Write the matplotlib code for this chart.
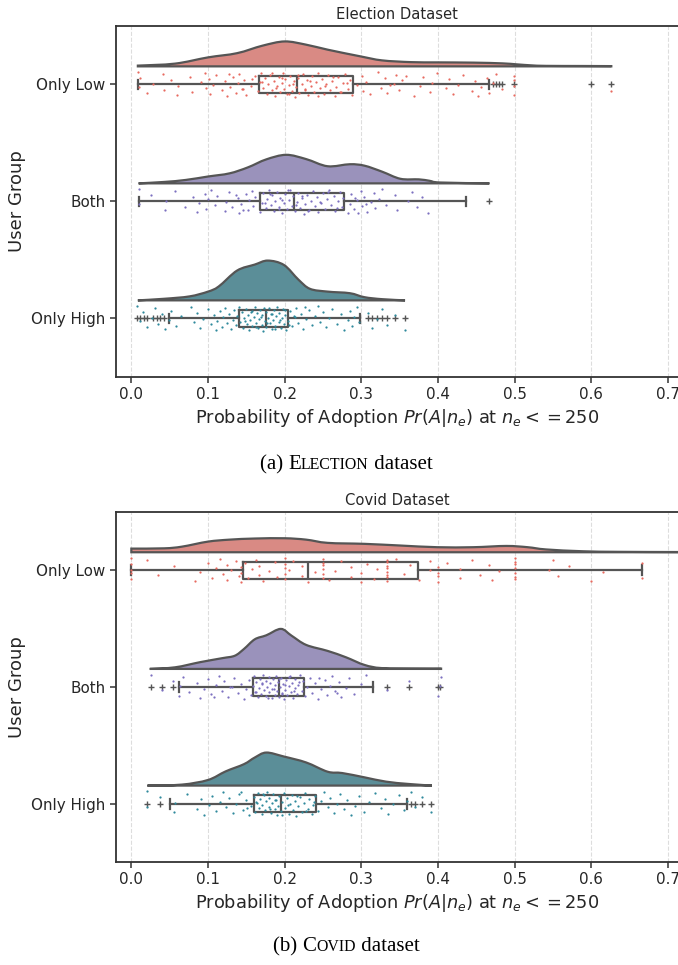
import numpy as np
import matplotlib
matplotlib.use("Agg")
from matplotlib import pyplot as plt
from matplotlib.path import Path
from matplotlib.patches import PathPatch

groups = ["Only Low", "Both", "Only High"]
titles = ["Election Dataset", "Covid Dataset"]
captions = [("(a) ", "Election", " dataset"), ("(b) ", "Covid", " dataset")]
xticks = [0.0, 0.1, 0.2, 0.3, 0.4, 0.5, 0.6, 0.7]

# box statistics: whislo, q1, med, q3, whishi
elec_box = [
    [0.0085, 0.167, 0.216, 0.289, 0.466],
    [0.0095, 0.168, 0.212, 0.277, 0.436],
    [0.049, 0.140, 0.175, 0.204, 0.298],
]
elec_fliers = [
    [0.472, 0.476, 0.479, 0.483, 0.499, 0.600, 0.625],
    [0.466],
    [0.007, 0.011, 0.016, 0.021, 0.028, 0.033, 0.038, 0.043,
     0.309, 0.314, 0.320, 0.327, 0.333, 0.344, 0.357],
]
covid_box = [
    [0.0, 0.145, 0.230, 0.374, 0.666],
    [0.062, 0.159, 0.193, 0.225, 0.315],
    [0.050, 0.160, 0.195, 0.241, 0.360],
]
covid_fliers = [
    [],
    [0.025, 0.040, 0.054, 0.333, 0.362, 0.400, 0.403],
    [0.021, 0.037, 0.365, 0.370, 0.379, 0.391],
]

# half violin outlines: x positions and density (relative to peak)
elec_vx = [
    [0.0085, 0.057, 0.100, 0.138, 0.171, 0.200, 0.228, 0.256, 0.299, 0.327,
     0.365, 0.399, 0.446, 0.484, 0.503, 0.522, 0.541, 0.589, 0.626],
    [0.0095, 0.043, 0.071, 0.100, 0.128, 0.152, 0.176, 0.202, 0.228, 0.256,
     0.285, 0.304, 0.327, 0.351, 0.375, 0.389, 0.403, 0.467],
    [0.0085, 0.043, 0.076, 0.100, 0.114, 0.138, 0.161, 0.178, 0.199, 0.218,
     0.233, 0.256, 0.285, 0.304, 0.327, 0.357],
]
elec_vd = [
    [0.03, 0.11, 0.36, 0.53, 0.83, 1.0, 0.87, 0.67, 0.40, 0.24,
     0.17, 0.16, 0.15, 0.12, 0.08, 0.04, 0.02, 0.015, 0.01],
    [0.0, 0.05, 0.12, 0.24, 0.35, 0.56, 0.84, 1.0, 0.85, 0.60,
     0.67, 0.62, 0.41, 0.16, 0.14, 0.09, 0.03, 0.0],
    [0.0, 0.04, 0.10, 0.22, 0.35, 0.75, 0.90, 1.0, 0.89, 0.52,
     0.29, 0.22, 0.18, 0.08, 0.03, 0.0],
]
elec_peak = [0.213, 0.244, 0.34]

covid_vx = [
    [0.0, 0.043, 0.066, 0.100, 0.128, 0.161, 0.200, 0.228, 0.256, 0.304,
     0.351, 0.399, 0.446, 0.489, 0.517, 0.541, 0.589, 0.636, 0.716, 0.760],
    [0.024, 0.057, 0.090, 0.119, 0.135, 0.147, 0.161, 0.176, 0.195, 0.209,
     0.228, 0.256, 0.280, 0.304, 0.327, 0.375, 0.404],
    [0.021, 0.066, 0.100, 0.123, 0.147, 0.161, 0.176, 0.199, 0.228, 0.256,
     0.275, 0.304, 0.332, 0.361, 0.392],
]
covid_vd = [
    [0.26, 0.28, 0.40, 0.76, 0.90, 0.98, 1.0, 0.90, 0.67, 0.60,
     0.48, 0.36, 0.36, 0.45, 0.36, 0.20, 0.07, 0.03, 0.015, 0.01],
    [0.0, 0.04, 0.17, 0.27, 0.33, 0.50, 0.74, 0.84, 1.0, 0.83,
     0.60, 0.45, 0.29, 0.10, 0.02, 0.008, 0.008],
    [0.0, 0.03, 0.17, 0.43, 0.65, 0.85, 1.0, 0.88, 0.70, 0.42,
     0.38, 0.25, 0.12, 0.05, 0.0],
]
covid_peak = [0.12, 0.343, 0.283]

# raw observations (strip points)
elec_pts = [
    [0.009, 0.010, 0.011, 0.021, 0.028, 0.041, 0.043, 0.052, 0.060, 0.061, 0.077,
     0.079, 0.091, 0.096, 0.098, 0.101, 0.103, 0.106, 0.110, 0.118, 0.122, 0.125,
     0.129, 0.133, 0.136, 0.139, 0.141, 0.144, 0.147, 0.150, 0.156, 0.161, 0.165,
     0.168, 0.169, 0.172, 0.174, 0.177, 0.178, 0.181, 0.184, 0.186, 0.187, 0.190,
     0.193, 0.194, 0.196, 0.198, 0.199, 0.201, 0.203, 0.205, 0.207, 0.209, 0.212,
     0.213, 0.215, 0.218, 0.219, 0.222, 0.224, 0.227, 0.229, 0.231, 0.234, 0.235,
     0.238, 0.241, 0.243, 0.246, 0.249, 0.251, 0.254, 0.257, 0.259, 0.262, 0.265,
     0.267, 0.270, 0.274, 0.276, 0.279, 0.283, 0.285, 0.288, 0.294, 0.301, 0.302,
     0.306, 0.322, 0.326, 0.331, 0.334, 0.342, 0.345, 0.349, 0.353, 0.369, 0.376,
     0.381, 0.389, 0.392, 0.399, 0.411, 0.414, 0.419, 0.426, 0.433, 0.444, 0.448,
     0.452, 0.456, 0.464, 0.466, 0.472, 0.476, 0.483, 0.499, 0.499, 0.499, 0.499,
     0.625, 0.171, 0.183, 0.189, 0.197, 0.206, 0.211, 0.217, 0.226, 0.233, 0.244,
     0.252, 0.263, 0.272, 0.281, 0.127, 0.145, 0.158, 0.311, 0.338, 0.358],
    [0.010, 0.010, 0.026, 0.044, 0.045, 0.057, 0.070, 0.081, 0.085, 0.088, 0.096,
     0.097, 0.100, 0.104, 0.109, 0.112, 0.122, 0.123, 0.128, 0.131, 0.139, 0.140,
     0.143, 0.149, 0.152, 0.154, 0.157, 0.159, 0.161, 0.168, 0.170, 0.172, 0.175,
     0.177, 0.179, 0.182, 0.184, 0.186, 0.188, 0.190, 0.193, 0.194, 0.197, 0.199,
     0.200, 0.203, 0.205, 0.207, 0.209, 0.211, 0.213, 0.216, 0.218, 0.220, 0.223,
     0.225, 0.227, 0.229, 0.232, 0.234, 0.237, 0.239, 0.242, 0.244, 0.247, 0.250,
     0.253, 0.255, 0.258, 0.261, 0.264, 0.266, 0.269, 0.272, 0.275, 0.276, 0.283,
     0.285, 0.287, 0.290, 0.294, 0.299, 0.301, 0.304, 0.308, 0.313, 0.316, 0.318,
     0.323, 0.327, 0.332, 0.344, 0.346, 0.361, 0.366, 0.373, 0.379, 0.387, 0.174,
     0.181, 0.192, 0.196, 0.204, 0.215, 0.222, 0.231, 0.246, 0.257, 0.268, 0.292,
     0.296, 0.306, 0.137, 0.145],
    [0.008, 0.011, 0.015, 0.020, 0.027, 0.031, 0.035, 0.040, 0.044, 0.049, 0.052,
     0.058, 0.065, 0.078, 0.082, 0.085, 0.090, 0.094, 0.100, 0.104, 0.108, 0.110,
     0.112, 0.115, 0.118, 0.120, 0.122, 0.125, 0.127, 0.130, 0.132, 0.134, 0.136,
     0.138, 0.141, 0.142, 0.144, 0.146, 0.147, 0.149, 0.151, 0.152, 0.154, 0.155,
     0.157, 0.158, 0.160, 0.161, 0.163, 0.164, 0.165, 0.167, 0.168, 0.170, 0.171,
     0.172, 0.174, 0.175, 0.176, 0.178, 0.179, 0.181, 0.182, 0.183, 0.185, 0.186,
     0.188, 0.189, 0.190, 0.192, 0.193, 0.195, 0.196, 0.198, 0.199, 0.201, 0.202,
     0.204, 0.207, 0.210, 0.213, 0.215, 0.218, 0.221, 0.224, 0.228, 0.232, 0.236,
     0.240, 0.243, 0.246, 0.250, 0.254, 0.258, 0.262, 0.268, 0.273, 0.277, 0.282,
     0.285, 0.288, 0.291, 0.294, 0.297, 0.309, 0.314, 0.320, 0.327, 0.333, 0.344,
     0.357, 0.148, 0.156, 0.162, 0.169, 0.173, 0.177, 0.184, 0.187, 0.194, 0.200,
     0.206, 0.212, 0.226],
]
covid_pts = [
    [0.0, 0.0, 0.0, 0.0, 0.0, 0.020, 0.035, 0.055, 0.083, 0.090, 0.100, 0.105,
     0.111, 0.115, 0.120, 0.125, 0.125, 0.130, 0.136, 0.140, 0.143, 0.143, 0.143,
     0.148, 0.152, 0.158, 0.163, 0.167, 0.167, 0.172, 0.180, 0.187, 0.190, 0.200,
     0.200, 0.200, 0.200, 0.200, 0.205, 0.211, 0.222, 0.222, 0.230, 0.240, 0.250,
     0.250, 0.250, 0.250, 0.250, 0.250, 0.258, 0.265, 0.273, 0.286, 0.286, 0.300,
     0.300, 0.308, 0.316, 0.320, 0.333, 0.333, 0.333, 0.333, 0.333, 0.333, 0.333,
     0.333, 0.345, 0.355, 0.364, 0.375, 0.389, 0.389, 0.400, 0.400, 0.400, 0.400,
     0.412, 0.429, 0.429, 0.444, 0.455, 0.467, 0.470, 0.480, 0.500, 0.500, 0.500,
     0.500, 0.500, 0.500, 0.500, 0.545, 0.550, 0.556, 0.571, 0.600, 0.615, 0.666,
     0.666],
    [0.025, 0.040, 0.054, 0.062, 0.063, 0.068, 0.075, 0.085, 0.090, 0.095, 0.100,
     0.104, 0.110, 0.114, 0.118, 0.121, 0.126, 0.129, 0.134, 0.139, 0.143, 0.147,
     0.150, 0.153, 0.156, 0.159, 0.160, 0.162, 0.163, 0.165, 0.166, 0.168, 0.169,
     0.171, 0.172, 0.173, 0.175, 0.176, 0.177, 0.179, 0.180, 0.181, 0.183, 0.184,
     0.185, 0.187, 0.188, 0.189, 0.190, 0.191, 0.193, 0.194, 0.195, 0.196, 0.198,
     0.199, 0.200, 0.202, 0.203, 0.205, 0.206, 0.208, 0.209, 0.211, 0.213, 0.214,
     0.216, 0.218, 0.220, 0.222, 0.224, 0.226, 0.229, 0.233, 0.236, 0.240, 0.243,
     0.248, 0.252, 0.255, 0.259, 0.262, 0.266, 0.271, 0.274, 0.280, 0.284, 0.291,
     0.299, 0.306, 0.333, 0.362, 0.400, 0.402, 0.404, 0.161, 0.170, 0.178, 0.186,
     0.192, 0.197, 0.201, 0.207, 0.212, 0.219, 0.108, 0.131, 0.245, 0.268],
    [0.020, 0.021, 0.037, 0.055, 0.057, 0.072, 0.085, 0.091, 0.095, 0.101, 0.105,
     0.110, 0.116, 0.120, 0.124, 0.128, 0.132, 0.137, 0.140, 0.145, 0.149, 0.153,
     0.156, 0.160, 0.161, 0.163, 0.165, 0.166, 0.168, 0.170, 0.171, 0.173, 0.174,
     0.176, 0.177, 0.179, 0.180, 0.182, 0.184, 0.185, 0.187, 0.188, 0.190, 0.191,
     0.193, 0.195, 0.197, 0.199, 0.201, 0.203, 0.205, 0.207, 0.209, 0.211, 0.213,
     0.215, 0.218, 0.220, 0.222, 0.225, 0.227, 0.230, 0.232, 0.235, 0.237, 0.240,
     0.244, 0.248, 0.251, 0.256, 0.259, 0.264, 0.268, 0.272, 0.277, 0.281, 0.287,
     0.292, 0.297, 0.303, 0.310, 0.318, 0.325, 0.331, 0.335, 0.341, 0.349, 0.355,
     0.360, 0.365, 0.370, 0.379, 0.391, 0.164, 0.172, 0.181, 0.189, 0.196, 0.204,
     0.216, 0.228, 0.238, 0.143, 0.151],
]

violin_colors = ["#d98a84", "#9a92bb", "#5b8e98"]
point_colors = ["#e86a60", "#7c70c0", "#2f8a9c"]
line_col = "#555555"
text_col = "#262626"

plt.rcParams['font.family'] = ['DejaVu Sans']
fig = plt.figure(figsize=(6.78, 9.65), dpi=100)
ax_a = fig.add_axes([116 / 678, 1 - 377 / 965, 1 - 116 / 678, (377 - 26) / 965])
ax_b = fig.add_axes([116 / 678, 1 - 862 / 965, 1 - 116 / 678, (862 - 512) / 965])


def smooth_outline(xs, ys, base):
    # curved (Catmull-Rom style bezier) top edge, straight baseline
    pts = np.column_stack([xs, ys])
    verts = [(xs[0], base), tuple(pts[0])]
    codes = [Path.MOVETO, Path.LINETO]
    n = len(pts)
    for j in range(n - 1):
        p0 = pts[max(j - 1, 0)]
        p1 = pts[j]
        p2 = pts[j + 1]
        p3 = pts[min(j + 2, n - 1)]
        c1 = p1 + (p2 - p0) / 6.0
        c2 = p2 - (p3 - p1) / 6.0
        verts += [tuple(c1), tuple(c2), tuple(p2)]
        codes += [Path.CURVE4] * 3
    verts += [(xs[-1], base), (xs[0], base)]
    codes += [Path.LINETO, Path.CLOSEPOLY]
    return Path(verts, codes)


def draw_panel(ax, title, box, fliers, vx, vd, peak, pts):
    for i in range(len(groups)):
        # half violin above the box
        xs = np.array(vx[i])
        base = i - 0.155
        top = base - np.array(vd[i]) * peak[i]
        patch = PathPatch(smooth_outline(xs, top, base), facecolor=violin_colors[i],
                          edgecolor=line_col, linewidth=1.6, zorder=2)
        ax.add_patch(patch)
        # jittered strip
        p = np.array(pts[i])
        k = np.arange(len(p))
        jit = ((k * 0.6180339887) % 1.0 - 0.5) * 0.21
        ax.scatter(p, i + jit, s=2.6, color=point_colors[i], linewidths=0, zorder=3)
        # box
        lo, q1, med, q3, hi = box[i]
        stats = [dict(whislo=lo, q1=q1, med=med, q3=q3, whishi=hi, fliers=fliers[i])]
        ax.bxp(stats, positions=[i], widths=0.15, vert=False, patch_artist=False,
               manage_ticks=False, capwidths=[0.085],
               boxprops=dict(color=line_col, linewidth=1.6),
               medianprops=dict(color=line_col, linewidth=1.6),
               whiskerprops=dict(color=line_col, linewidth=1.6),
               capprops=dict(color=line_col, linewidth=1.6),
               flierprops=dict(marker='+', markersize=5, markeredgecolor=line_col,
                               markeredgewidth=1.0))
    ax.set_xlim(-0.02, 0.713)
    ax.set_ylim(2.5, -0.5)
    ax.set_yticks(range(len(groups)))
    ax.set_yticklabels(groups, fontsize=10.9, color=text_col)
    ax.set_xticks(xticks)
    ax.set_xticklabels(["%.1f" % t for t in xticks], fontsize=10.9, color=text_col)
    ax.xaxis.grid(True, linestyle='--', color='#dddddd', linewidth=0.8)
    ax.set_axisbelow(True)
    ax.tick_params(axis='both', length=4, width=1.1, color='#333333')
    for s in ['left', 'top', 'bottom']:
        ax.spines[s].set_color('#333333')
        ax.spines[s].set_linewidth(1.3)
    ax.spines['right'].set_visible(False)
    ax.set_title(title, fontsize=10.6, pad=5, color=text_col)
    ax.set_ylabel("User Group", fontsize=13, color=text_col)
    ax.set_xlabel(r"Probability of Adoption $Pr(A|n_e)$ at $n_e <= 250$", fontsize=12.8,
                  labelpad=3, color=text_col)


draw_panel(ax_a, titles[0], elec_box, elec_fliers, elec_vx, elec_vd, elec_peak, elec_pts)
draw_panel(ax_b, titles[1], covid_box, covid_fliers, covid_vx, covid_vd, covid_peak, covid_pts)


def small_caps_caption(y, parts, xc, size=15):
    # parts: (prefix, word, suffix); the word is set in small caps
    pre, word, suf = parts
    pieces = [(pre, size), (word[0], size)]
    pieces += [(word[1:].upper(), size * 0.76), (suf, size)]
    r = fig.canvas.get_renderer()
    texts = []
    widths = []
    for s, fs in pieces:
        t = fig.text(0, y, s, fontsize=fs, family='Liberation Serif', va='baseline')
        texts.append(t)
        widths.append(t.get_window_extent(renderer=r).width)
    x = xc * fig.bbox.width - sum(widths) / 2
    for t, w in zip(texts, widths):
        t.set_x(x / fig.bbox.width)
        x += w


small_caps_caption(1 - 469 / 965, captions[0], 346 / 678)
small_caps_caption(1 - 951 / 965, captions[1], 346 / 678)

fig.savefig("out.png", dpi=100)
